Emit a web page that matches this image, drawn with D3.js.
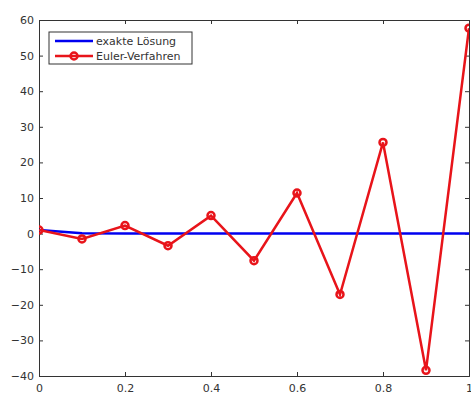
<!DOCTYPE html>
<html>
<head>
<meta charset="utf-8">
<script src="https://cdn.jsdelivr.net/npm/d3@7"></script>
<style>
body { margin: 0; background: #fff; }
text { font-family: "DejaVu Sans", sans-serif; font-size: 11px; fill: #333; }
</style>
</head>
<body>
<svg id="chart"></svg>
<script>
var width = 471;
var height = 394;
var margin = {left: 39, right: 2, top: 20, bottom: 18};

// data
var xValues = [0, 0.1, 0.2, 0.3, 0.4, 0.5, 0.6, 0.7, 0.8, 0.9, 1];
var exactValues = [1, 0.08, 0.01, 0, 0, 0, 0, 0, 0, 0, 0];
var eulerValues = [1, -1.5, 2.25, -3.4, 5.05, -7.6, 11.4, -17.1, 25.6, -38.4, 57.7];
var xTicks = [0, 0.2, 0.4, 0.6, 0.8, 1];
var yTicks = [-40, -30, -20, -10, 0, 10, 20, 30, 40, 50, 60];
var legendLabels = ["exakte Lösung", "Euler-Verfahren"];

var svg = d3.select("#chart").attr("width", width).attr("height", height);

var x = d3.scaleLinear().domain([0, 1]).range([margin.left, width - margin.right]);
var y = d3.scaleLinear().domain([-40, 60]).range([height - margin.bottom, margin.top]);

svg.append("clipPath").attr("id", "clip")
	.append("rect")
	.attr("x", x(0)).attr("y", y(60))
	.attr("width", x(1) - x(0)).attr("height", y(-40) - y(60));

var tickLen = 4;
var axisColor = "#333";
var blue = "#0000f0";
var red = "#e8141a";

// bottom and left axes with inward ticks
var gx = svg.append("g").attr("transform", "translate(0," + y(-40) + ")")
	.call(d3.axisBottom(x).tickValues(xTicks).tickSize(-tickLen).tickPadding(8)
		.tickFormat(function(d) { return d; }));
var gy = svg.append("g").attr("transform", "translate(" + x(0) + ",0)")
	.call(d3.axisLeft(y).tickValues(yTicks).tickSize(-tickLen).tickPadding(5));
var gt = svg.append("g").attr("transform", "translate(0," + y(60) + ")")
	.call(d3.axisTop(x).tickValues(xTicks).tickSize(-tickLen).tickFormat(""));
var gr = svg.append("g").attr("transform", "translate(" + x(1) + ",0)")
	.call(d3.axisRight(y).tickValues(yTicks).tickSize(-tickLen).tickFormat(""));

[gx, gy, gt, gr].forEach(function(g) {
	g.selectAll("path, line").attr("stroke", axisColor).attr("stroke-width", 1);
	g.selectAll("text").attr("font-size", 11).attr("fill", axisColor)
		.attr("font-family", "DejaVu Sans, sans-serif");
});

var plot = svg.append("g").attr("clip-path", "url(#clip)");

var line = d3.line()
	.x(function(d, i) { return x(xValues[i]); })
	.y(function(d) { return y(d); });

plot.append("path")
	.datum(exactValues)
	.attr("d", line)
	.attr("fill", "none")
	.attr("stroke", blue)
	.attr("stroke-width", 2.5);

plot.append("path")
	.datum(eulerValues)
	.attr("d", line)
	.attr("fill", "none")
	.attr("stroke", red)
	.attr("stroke-width", 2.5);

plot.selectAll("circle.euler").data(eulerValues).enter()
	.append("circle")
	.attr("class", "euler")
	.attr("cx", function(d, i) { return x(xValues[i]); })
	.attr("cy", function(d) { return y(d); })
	.attr("r", 3.5)
	.attr("fill", "none")
	.attr("stroke", red)
	.attr("stroke-width", 2.5);

// legend
var legend = svg.append("g").attr("transform", "translate(49,32)");
legend.append("rect")
	.attr("width", 143).attr("height", 32)
	.attr("fill", "#fff").attr("stroke", axisColor).attr("stroke-width", 1);
var colors = [blue, red];
legendLabels.forEach(function(label, i) {
	var row = legend.append("g").attr("transform", "translate(0," + (9 + i * 15) + ")");
	row.append("line")
		.attr("x1", 6).attr("x2", 44).attr("y1", 0).attr("y2", 0)
		.attr("stroke", colors[i]).attr("stroke-width", 2.5);
	if (i == 1) {
		row.append("circle").attr("cx", 25).attr("cy", 0).attr("r", 3.5)
			.attr("fill", "none").attr("stroke", colors[i]).attr("stroke-width", 2.5);
	}
	row.append("text").attr("x", 47).attr("y", 4).text(label);
});
</script>
</body>
</html>
